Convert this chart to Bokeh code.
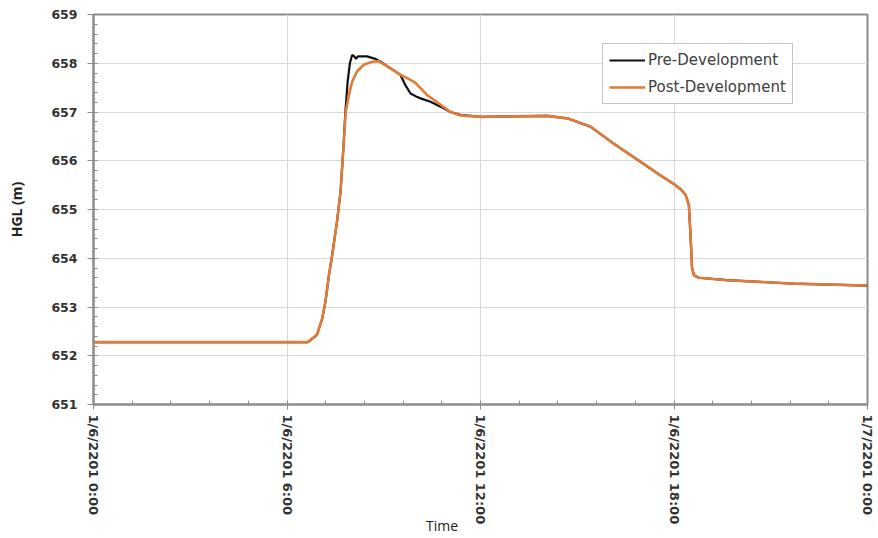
from bokeh.plotting import figure
from bokeh.models import SingleIntervalTicker, Range1d
from bokeh.embed import file_html
from bokeh.resources import INLINE

# Hydraulic grade line over one day, hours since 1/6/2201 0:00
pre_hours = [0.0, 6.65, 6.93, 7.09, 7.19, 7.30, 7.40, 7.55, 7.66, 7.76, 7.81,
             7.88, 7.95, 8.02, 8.09, 8.14, 8.20, 8.48, 8.74, 8.90, 9.20, 9.52,
             9.67, 9.83, 10.0, 10.14, 10.45, 10.76, 11.07, 11.38, 12.0, 13.0,
             14.07, 14.69, 15.41, 16.13, 16.96, 17.58, 18.0, 18.2, 18.36, 18.46,
             18.51, 18.56, 18.62, 18.77, 19.64, 21.71, 24.0]
pre_hgl = [652.28, 652.28, 652.43, 652.76, 653.10, 653.65, 654.06, 654.75,
           655.36, 656.38, 657.00, 657.62, 658.00, 658.17, 658.14, 658.09,
           658.14, 658.14, 658.09, 658.03, 657.90, 657.76, 657.55, 657.38,
           657.32, 657.28, 657.21, 657.11, 657.00, 656.94, 656.90, 656.91,
           656.92, 656.87, 656.70, 656.35, 655.98, 655.70, 655.52, 655.42,
           655.30, 655.10, 654.50, 653.80, 653.65, 653.60, 653.55, 653.48,
           653.44]

post_hours = [0.0, 6.65, 6.93, 7.09, 7.19, 7.30, 7.40, 7.55, 7.66, 7.76, 7.82,
              7.92, 8.02, 8.17, 8.38, 8.64, 8.85, 9.20, 9.52, 9.80, 9.98, 10.14,
              10.34, 10.55, 10.76, 11.07, 11.38, 12.0, 13.0, 14.07, 14.69, 15.41,
              16.13, 16.96, 17.58, 18.0, 18.2, 18.36, 18.46, 18.51, 18.56, 18.62,
              18.77, 19.64, 21.71, 24.0]
post_hgl = [652.28, 652.28, 652.43, 652.76, 653.10, 653.65, 654.06, 654.75,
            655.36, 656.38, 657.00, 657.35, 657.62, 657.83, 657.97, 658.03,
            658.04, 657.90, 657.76, 657.67, 657.60, 657.49, 657.35, 657.25,
            657.15, 657.00, 656.93, 656.90, 656.91, 656.92, 656.87, 656.70,
            656.35, 655.98, 655.70, 655.52, 655.42, 655.30, 655.10, 654.50,
            653.80, 653.65, 653.60, 653.55, 653.48, 653.44]

tick_hours = [0, 6, 12, 18, 24]
tick_labels = ["1/6/2201 0:00", "1/6/2201 6:00", "1/6/2201 12:00",
               "1/6/2201 18:00", "1/7/2201 0:00"]

AXIS_GREY = "#8c8c8c"

p = figure(width=878, height=538, output_backend="svg", toolbar_location=None,
           x_range=Range1d(0, 24), y_range=Range1d(651, 659),
           min_border_left=93, min_border_right=11, min_border_top=14,
           min_border_bottom=134)
p.background_fill_color = "white"
p.border_fill_color = "white"
p.outline_line_color = AXIS_GREY
p.outline_line_width = 2

p.line(pre_hours, pre_hgl, line_color="#111111", line_width=2.2,
       legend_label="Pre-Development")
p.line(post_hours, post_hgl, line_color="#E07B39", line_width=2.6,
       legend_label="Post-Development")

# x axis: date-time tick labels every 6 hours; title tucked under the labels,
# nudged left of centre with trailing wide spaces
xa = p.xaxis[0]
xa.ticker = SingleIntervalTicker(interval=6, num_minor_ticks=5)
xa.major_label_overrides = {h: lab for h, lab in zip(tick_hours, tick_labels)}
xa.major_label_orientation = "vertical"
xa.major_label_text_font = "DejaVu Sans"
xa.major_label_text_font_style = "bold"
xa.major_label_text_font_size = "13px"
xa.major_label_text_color = "#333333"
xa.major_label_standoff = 5
xa.axis_label = "Time" + "\u2003" * 5 + "\u2002"
xa.axis_label_text_font = "Open Sans"
xa.axis_label_text_font_style = "normal"
xa.axis_label_text_font_size = "14px"
xa.axis_label_text_color = "#222222"
xa.axis_label_standoff = -11
xa.axis_line_color = AXIS_GREY
xa.axis_line_width = 2
xa.major_tick_line_color = AXIS_GREY
xa.minor_tick_line_color = AXIS_GREY
xa.major_tick_in = 0
xa.major_tick_out = 5
xa.minor_tick_in = 4
xa.minor_tick_out = 0

# y axis
ya = p.yaxis[0]
ya.ticker = SingleIntervalTicker(interval=1, num_minor_ticks=5)
ya.axis_label = "HGL (m)"
ya.axis_label_text_font = "Open Sans"
ya.axis_label_text_font_style = "bold"
ya.axis_label_text_font_size = "14px"
ya.axis_label_text_color = "#222222"
ya.axis_label_standoff = 22
ya.major_label_text_font = "DejaVu Sans"
ya.major_label_text_font_style = "bold"
ya.major_label_text_font_size = "12.5px"
ya.major_label_text_color = "#333333"
ya.major_label_standoff = 10
ya.axis_line_color = AXIS_GREY
ya.axis_line_width = 2
ya.major_tick_line_color = AXIS_GREY
ya.minor_tick_line_color = AXIS_GREY
ya.major_tick_in = 0
ya.major_tick_out = 6
ya.minor_tick_in = 4
ya.minor_tick_out = 0

p.xgrid.grid_line_color = "#d9d9d9"
p.ygrid.grid_line_color = "#d9d9d9"
p.xgrid.grid_line_width = 1.2
p.ygrid.grid_line_width = 1.2

leg = p.legend[0]
leg.location = (509, 300)
leg.border_line_color = AXIS_GREY
leg.border_line_width = 1.5
leg.background_fill_color = "white"
leg.background_fill_alpha = 1
leg.padding = 6
leg.margin = 0
leg.spacing = 7
leg.label_height = 20
leg.glyph_height = 20
leg.glyph_width = 36
leg.label_standoff = 3
leg.label_text_font = "DejaVu Sans"
leg.label_text_font_size = "15px"
leg.label_text_color = "#404040"

open("out.html", "w").write(file_html(p, INLINE))
